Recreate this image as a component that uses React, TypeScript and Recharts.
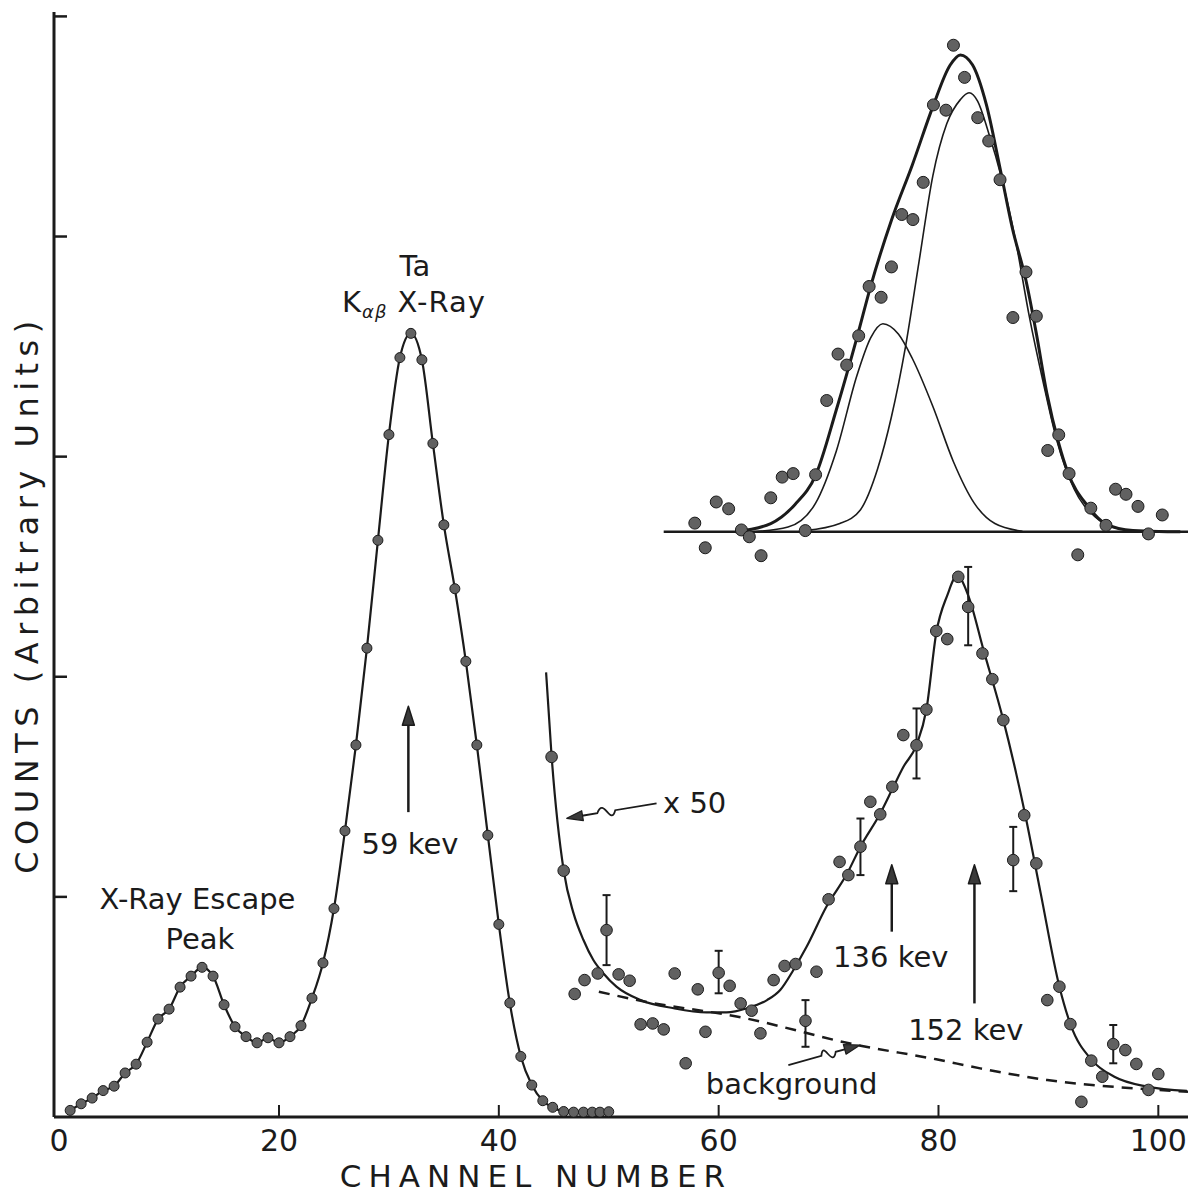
import React from "react";
import {
  ComposedChart,
  ErrorBar,
  Line,
  ReferenceDot,
  ReferenceLine,
  Scatter,
  XAxis,
  YAxis,
} from "recharts";

const INK = "#1b1b1b";
const DOT = "#616161";
const FONT = "'DejaVu Sans', sans-serif";

// x1 spectrum: escape peak + Ta K x-ray
const mainChannels = [
  1, 2, 3, 4, 5, 6, 7, 8, 9, 10, 11, 12, 13, 14, 15, 16, 17, 18, 19, 20, 21, 22, 23, 24, 25,
  26, 27, 28, 29, 30, 31, 32, 33, 34, 35, 36, 37, 38, 39, 40, 41, 42, 43, 44, 44.9, 45.9,
  46.8, 47.7, 48.5, 49.2, 50,
];
const mainCounts = [
  0.03, 0.06, 0.086, 0.12, 0.14, 0.2, 0.24, 0.34, 0.445, 0.49, 0.59, 0.64, 0.68, 0.64, 0.51,
  0.41, 0.365, 0.337, 0.36, 0.337, 0.365, 0.415, 0.54, 0.7, 0.947, 1.3, 1.69, 2.13, 2.62, 3.1,
  3.45, 3.56, 3.44, 3.06, 2.69, 2.4, 2.07, 1.69, 1.28, 0.875, 0.518, 0.275, 0.145, 0.074, 0.044,
  0.025, 0.022, 0.022, 0.022, 0.022, 0.024,
];

// x50 spectrum, plain points
const x50Channels = [
  44.8, 45.9, 46.9, 47.8, 49, 50.9, 51.9, 52.9, 54, 55, 56, 57, 58.1, 58.8, 61, 62, 63, 63.8,
  65, 66, 67, 68.9, 70, 71, 71.8, 73.8, 74.7, 75.8, 76.8, 78.9, 79.8, 80.8, 81.8, 84, 84.9,
  85.9, 87.8, 88.9, 89.9, 91, 92, 93, 93.9, 94.9, 97, 98, 99.1, 100,
];
const x50Counts = [
  1.636, 1.119, 0.559, 0.622, 0.652, 0.648, 0.619, 0.421, 0.425, 0.398, 0.652, 0.244, 0.58,
  0.387, 0.596, 0.516, 0.483, 0.38, 0.622, 0.686, 0.695, 0.66, 0.989, 1.159, 1.099, 1.432,
  1.375, 1.5, 1.735, 1.851, 2.208, 2.171, 2.454, 2.106, 1.989, 1.803, 1.371, 1.152, 0.531,
  0.592, 0.422, 0.069, 0.256, 0.183, 0.304, 0.241, 0.123, 0.195,
];

// x50 points with error bars
const errChannels = [49.8, 60, 67.9, 72.9, 78, 82.7, 86.8, 95.9];
const errCounts = [0.849, 0.655, 0.437, 1.228, 1.689, 2.317, 1.167, 0.331];
const errLow = [0.69, 0.562, 0.319, 1.099, 1.538, 2.143, 1.026, 0.244];
const errHigh = [1.008, 0.755, 0.531, 1.356, 1.856, 2.499, 1.318, 0.418];

// drawn curve through the x50 points
const x50FitChannels = [
  44.3, 44.8, 45.9, 46.8, 47.7, 48.6, 49.5, 50.7, 52.9, 55.9, 58.9, 60.7, 62.6, 64.4, 65.6,
  66.8, 68, 69.8, 71.7, 72.9, 74.7, 75.9, 76.8, 78, 78.9, 79.8, 80.8, 81.7, 82.7, 84.1, 85.9,
  87.9, 89.3, 91, 92, 94, 96, 99, 102.6,
];
const x50FitCounts = [
  2.02, 1.64, 1.12, 0.925, 0.804, 0.713, 0.653, 0.592, 0.531, 0.494, 0.475, 0.475, 0.494,
  0.531, 0.577, 0.668, 0.773, 0.955, 1.107, 1.228, 1.379, 1.5, 1.59, 1.69, 1.851, 2.2, 2.37,
  2.46, 2.37, 2.121, 1.803, 1.371, 1.016, 0.592, 0.422, 0.256, 0.183, 0.138, 0.119,
];

// dashed background
const bgChannels = [49.1, 52.9, 62, 72.6, 79.8, 83.8, 89.9, 99, 102.7];
const bgCounts = [0.569, 0.528, 0.453, 0.327, 0.262, 0.221, 0.168, 0.126, 0.115];

// inset: 152 keV peak decomposition
const insetBaseChannels = [55, 102.7];
const insetBaseCounts = [2.659, 2.659];
const insetChannels = [
  57.83, 58.78, 59.78, 60.91, 62.07, 62.79, 63.86, 64.74, 65.78, 66.78, 67.88, 68.82, 69.83,
  70.86, 71.65, 72.74, 73.69, 74.78, 75.72, 76.66, 77.67, 78.61, 79.54, 80.68, 81.36, 82.37,
  83.57, 84.57, 85.6, 86.77, 87.96, 88.9, 89.94, 90.94, 91.88, 92.67, 93.86, 95.24, 96.11,
  97.06, 98.15, 99.1, 100.36,
];
const insetCounts = [
  2.698, 2.586, 2.794, 2.763, 2.667, 2.636, 2.55, 2.813, 2.907, 2.923, 2.664, 2.918, 3.255,
  3.466, 3.416, 3.549, 3.773, 3.724, 3.862, 4.1, 4.077, 4.246, 4.598, 4.574, 4.869, 4.723,
  4.54, 4.434, 4.258, 3.632, 3.839, 3.638, 3.028, 3.099, 2.923, 2.554, 2.766, 2.688, 2.852,
  2.829, 2.774, 2.649, 2.735,
];
const totalChannels = [
  61.5, 64.74, 66.93, 68.82, 70.7, 72.58, 73.84, 75.72, 77.61, 79.49, 81.05, 81.99, 83.09,
  84.35, 85.6, 86.71, 87.96, 88.9, 89.85, 90.94, 91.72, 93.6, 95.18, 97.69, 100.82, 102,
];
const totalCounts = [
  2.659, 2.696, 2.782, 2.915, 3.212, 3.541, 3.776, 4.074, 4.324, 4.59, 4.778, 4.825, 4.78,
  4.6, 4.31, 4.04, 3.8, 3.56, 3.29, 3.06, 2.935, 2.774, 2.696, 2.664, 2.659, 2.659,
];
const peakAChannels = [
  63.17, 66.31, 68.82, 70.7, 72.58, 73.84, 74.94, 76.35, 77.61, 79.49, 81.36, 83.25, 85.13,
  87.64,
];
const peakACounts = [
  2.659, 2.68, 2.789, 3.025, 3.369, 3.541, 3.604, 3.557, 3.447, 3.228, 2.977, 2.789, 2.696,
  2.661,
];
const peakBChannels = [
  67.88, 71.02, 72.89, 74.47, 75.72, 76.98, 78.23, 79.49, 80.75, 81.99, 82.78, 83.57, 84.5,
  85.76, 87.02, 88.27, 89.53, 90.78, 92.35, 94.23, 96.42, 98.94,
];
const peakBCounts = [
  2.664, 2.696, 2.758, 2.946, 3.181, 3.494, 3.886, 4.277, 4.512, 4.622, 4.653, 4.614, 4.481,
  4.262, 3.98, 3.635, 3.337, 3.071, 2.852, 2.727, 2.672, 2.659,
];

const xTicks = [0, 20, 40, 60, 80, 100];
const yTicks = [1, 2, 3, 4, 5];

// annotations (data units)
const keVArrows = [
  { x: 31.77, from: 1.385, to: 1.866 },
  { x: 75.75, from: 0.842, to: 1.146 },
  { x: 83.27, from: 0.516, to: 1.146 },
];
const wavyArrows = [
  { x1: 54.35, y1: 1.425, x2: 46.18, y2: 1.357 },
  { x1: 66.34, y1: 0.236, x2: 72.87, y2: 0.327 },
];
const notes = [
  { text: "Ta", x: 32.37, y: 3.819, anchor: "middle" },
  { text: "X-Ray Escape", x: 12.58, y: 0.945, anchor: "middle" },
  { text: "Peak", x: 12.81, y: 0.763, anchor: "middle" },
  { text: "59 kev", x: 31.92, y: 1.194, anchor: "middle" },
  { text: "x 50", x: 54.94, y: 1.381, anchor: "start" },
  { text: "136 kev", x: 70.41, y: 0.681, anchor: "start" },
  { text: "152 kev", x: 77.24, y: 0.35, anchor: "start" },
  { text: "background", x: 58.83, y: 0.104, anchor: "start" },
];

const zip = (xs: number[], ys: number[]) => xs.map((x, i) => ({ x, y: ys[i] }));

const mainData = zip(mainChannels, mainCounts);
const x50Data = zip(x50Channels, x50Counts);
const errData = errChannels.map((x, i) => ({
  x,
  y: errCounts[i],
  err: [errCounts[i] - errLow[i], errHigh[i] - errCounts[i]],
}));
const x50FitData = zip(x50FitChannels, x50FitCounts);
const bgData = zip(bgChannels, bgCounts);
const insetBaseData = zip(insetBaseChannels, insetBaseCounts);
const insetData = zip(insetChannels, insetCounts);
const totalData = zip(totalChannels, totalCounts);
const peakAData = zip(peakAChannels, peakACounts);
const peakBData = zip(peakBChannels, peakBCounts);

const dotShape = (r: number) => (p: any) =>
  <circle cx={p.cx} cy={p.cy} r={r} fill={DOT} stroke={INK} strokeWidth={1} />;

function arrowHead(x2: number, y2: number, ux: number, uy: number, len = 19, w = 12) {
  const bx = x2 - ux * len;
  const by = y2 - uy * len;
  const nx = -uy;
  const ny = ux;
  return `${x2},${y2} ${bx + (nx * w) / 2},${by + (ny * w) / 2} ${bx - (nx * w) / 2},${by - (ny * w) / 2}`;
}

const straightArrow = (p: any) => {
  const { x1, y1, x2, y2 } = p;
  const len = Math.hypot(x2 - x1, y2 - y1);
  const ux = (x2 - x1) / len;
  const uy = (y2 - y1) / len;
  return (
    <g>
      <line x1={x1} y1={y1} x2={x2 - ux * 12} y2={y2 - uy * 12} stroke={INK} strokeWidth={2.5} />
      <polygon points={arrowHead(x2, y2, ux, uy)} fill="#3a3a3a" stroke={INK} strokeWidth={1.5} strokeLinejoin="round" />
    </g>
  );
};

const wavyArrow = (p: any) => {
  const { x1, y1, x2, y2 } = p;
  const len = Math.hypot(x2 - x1, y2 - y1);
  const ux = (x2 - x1) / len;
  const uy = (y2 - y1) / len;
  const at = (t: number, off: number) =>
    `${x1 + ux * len * t - uy * off},${y1 + uy * len * t + ux * off}`;
  const hb = `${x2 - ux * 14},${y2 - uy * 14}`;
  const d = `M${x1},${y1} L${at(0.46, 0)} C${at(0.54, -16)} ${at(0.56, 16)} ${at(0.66, 0)} L${hb}`;
  return (
    <g>
      <path d={d} fill="none" stroke={INK} strokeWidth={1.8} />
      <polygon points={arrowHead(x2, y2, ux, uy, 16, 10)} fill="#3a3a3a" stroke={INK} strokeWidth={1.2} strokeLinejoin="round" />
    </g>
  );
};

const noteShape = (text: string, anchor: string) => (p: any) => (
  <text
    x={p.cx}
    y={p.cy}
    textAnchor={anchor}
    fontSize={29}
    fontFamily={FONT}
    fill={INK}
  >
    {text}
  </text>
);

const kShape = (p: any) => (
  <text x={p.cx} y={p.cy} textAnchor="middle" fontSize={29} fontFamily={FONT} fill={INK} letterSpacing={1}>
    <tspan>K</tspan>
    <tspan fontSize={18} fontStyle="italic" dy={6}>
      αβ
    </tspan>
    <tspan dy={-6}> X-Ray</tspan>
  </text>
);

const XTick = (props: any) => {
  const { x, y, payload } = props;
  return (
    <g>
      {payload.value !== 0 && (
        <line x1={x} x2={x} y1={y} y2={y - 12} stroke={INK} strokeWidth={2} />
      )}
      <text x={x} y={y + 34} textAnchor="middle" fontSize={30} fontFamily={FONT} fill={INK}>
        {payload.value}
      </text>
    </g>
  );
};

const YTick = (props: any) => (
  <line x1={props.x} x2={props.x + 13} y1={props.y} y2={props.y} stroke={INK} strokeWidth={2.5} />
);

const xTitle = () => (
  <text
    x={536}
    y={1187}
    textAnchor="middle"
    fontSize={31}
    letterSpacing={7}
    fontFamily={FONT}
    fill={INK}
  >
    CHANNEL NUMBER
  </text>
);

const yTitle = () => (
  <text
    transform="translate(38,594) rotate(-90)"
    textAnchor="middle"
    fontSize={32}
    letterSpacing={6.5}
    fontFamily={FONT}
    fill={INK}
  >
    COUNTS (Arbitrary Units)
  </text>
);

export default function App() {
  return (
    <div style={{ position: "absolute", left: 0, top: 0, width: 1190, height: 1193, background: "#fff" }}>
      <ComposedChart width={1190} height={1193} margin={{ top: 12, right: 2, bottom: 46, left: 0 }}>
        <XAxis
          type="number"
          dataKey="x"
          domain={[-0.47, 102.7]}
          allowDataOverflow
          ticks={xTicks}
          interval={0}
          height={30}
          tickSize={0}
          tickMargin={0}
          tickLine={false}
          tick={XTick}
          axisLine={{ stroke: INK, strokeWidth: 3 }}
          label={{ content: xTitle }}
        />
        <YAxis
          type="number"
          dataKey="y"
          domain={[0, 5.02]}
          allowDataOverflow
          ticks={yTicks}
          interval={0}
          width={54}
          tickSize={0}
          tickMargin={0}
          tickLine={false}
          tick={YTick}
          axisLine={{ stroke: INK, strokeWidth: 3 }}
          label={{ content: yTitle }}
        />

        {/* inset */}
        <Line data={insetBaseData} dataKey="y" type="linear" stroke={INK} strokeWidth={2.5} dot={false} isAnimationActive={false} />
        <Line data={peakAData} dataKey="y" type="monotone" stroke={INK} strokeWidth={1.6} dot={false} isAnimationActive={false} />
        <Line data={peakBData} dataKey="y" type="monotone" stroke={INK} strokeWidth={1.6} dot={false} isAnimationActive={false} />
        <Line data={totalData} dataKey="y" type="monotone" stroke={INK} strokeWidth={3} dot={false} isAnimationActive={false} />
        <Scatter data={insetData} dataKey="y" shape={dotShape(6)} isAnimationActive={false} />

        {/* x50 spectrum */}
        <Line data={bgData} dataKey="y" type="monotone" stroke={INK} strokeWidth={2.5} strokeDasharray="11 8" dot={false} isAnimationActive={false} />
        <Line data={x50FitData} dataKey="y" type="monotone" stroke={INK} strokeWidth={2.2} dot={false} isAnimationActive={false} />
        <Scatter data={x50Data} dataKey="y" shape={dotShape(5.8)} isAnimationActive={false} />
        <Scatter data={errData} dataKey="y" shape={dotShape(5.8)} isAnimationActive={false}>
          <ErrorBar dataKey="err" direction="y" width={4} stroke={INK} strokeWidth={2} />
        </Scatter>

        {/* x1 spectrum */}
        <Line
          data={mainData}
          dataKey="y"
          type="monotone"
          stroke={INK}
          strokeWidth={2.2}
          dot={{ r: 5, fill: DOT, stroke: INK, strokeWidth: 1 }}
          isAnimationActive={false}
        />

        {keVArrows.map((a, i) => (
          <ReferenceLine
            key={`a${i}`}
            segment={[{ x: a.x, y: a.from }, { x: a.x, y: a.to }]}
            shape={straightArrow}
          />
        ))}
        {wavyArrows.map((a, i) => (
          <ReferenceLine
            key={`w${i}`}
            segment={[{ x: a.x1, y: a.y1 }, { x: a.x2, y: a.y2 }]}
            shape={wavyArrow}
          />
        ))}
        {notes.map((n, i) => (
          <ReferenceDot key={`n${i}`} x={n.x} y={n.y} r={0} shape={noteShape(n.text, n.anchor)} />
        ))}
        <ReferenceDot x={32.28} y={3.656} r={0} shape={kShape} />
      </ComposedChart>
    </div>
  );
}
